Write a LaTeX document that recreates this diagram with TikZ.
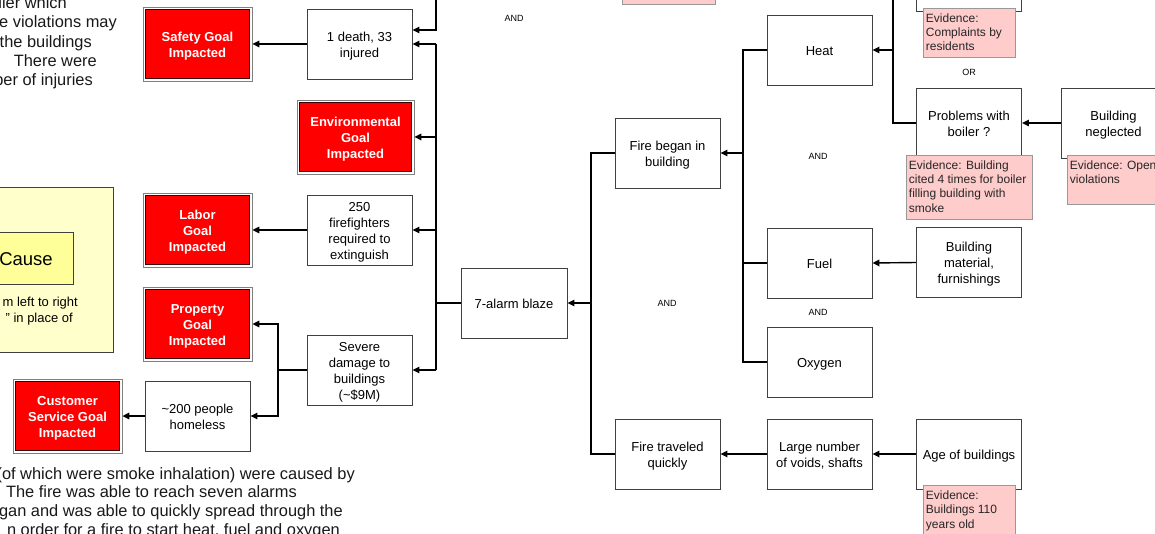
\documentclass[tikz,border=0pt]{standalone}
\usepackage{fontspec}
\setmainfont{Liberation Sans}
\usetikzlibrary{arrows.meta}
\definecolor{evpink}{RGB}{255,204,204}
\definecolor{ylight}{RGB}{255,255,204}
\definecolor{ymid}{RGB}{255,255,153}
\definecolor{goalred}{RGB}{255,0,0}
\definecolor{goaledge}{RGB}{60,0,0}
\newcommand{\evbox}[3]{\parbox[c][#1][t]{#2}{\raggedright\rule{0pt}{10.8pt}#3}}
\newcommand{\bt}[1]{\raisebox{-2pt}[\height][\depth]{\begin{tabular}{@{}c@{}}#1\end{tabular}}}
\begin{document}
\begin{tikzpicture}[x=1pt,y=-1pt,
 box/.style={draw=black!75, line width=0.9pt, fill=white, minimum width=105pt, minimum height=70pt, inner sep=1pt, font=\fontsize{13}{16}\selectfont},
 goal/.style={draw=black!50, line width=0.8pt, fill=white, minimum width=109pt, minimum height=74pt, inner sep=0pt, text=white, font=\fontsize{13}{16}\selectfont\bfseries,
   path picture={\draw[draw=goaledge, line width=1.5pt, fill=goalred] ([shift={(2.6pt,-2.6pt)}]path picture bounding box.north west) rectangle ([shift={(-2.6pt,2.6pt)}]path picture bounding box.south east);}},
 evid/.style={draw=black!40, line width=0.8pt, fill=evpink, anchor=north west, inner xsep=2.5pt, inner ysep=3pt, font=\fontsize{12}{14.4}\selectfont, text=black!85},
 gate/.style={font=\fontsize{9}{10}\selectfont, inner sep=0pt},
 para/.style={anchor=base east, inner sep=0pt, font=\fontsize{16.4}{19}\selectfont, text=black!90},
 conn/.style={draw=black, line width=1.4pt},
 arr/.style={conn, -{Triangle[length=7pt,width=6.5pt]}},
]
\useasboundingbox (0,0) rectangle (1155,534);
\clip (0,0) rectangle (1155,534);
\fill[white] (0,0) rectangle (1155,534);

% paragraph text
\node[para] (p1) at (67,9) {ller which};
\node[para] (p2) at (117,28) {e violations may};
\node[para] (p3) at (92,48) {the buildings};
\node[para] (p4) at (97,67) {There were};
\node[para] (p5) at (93,86) {ber of injuries};
\node[para] (q1) at (355,479) {(of which were smoke inhalation) were caused by};
\node[para] (q2) at (297,497) {The fire was able to reach seven alarms};
\node[para] (q3) at (343,516) {gan and was able to quickly spread through the};
\node[para] (q4) at (340,535) {n order for a fire to start heat, fuel and oxygen};

% legend
\node[draw=black!75, line width=1pt, fill=ylight, minimum width=174pt, minimum height=164pt] (legend) at (26,270) {};
\node[draw=black!75, line width=1pt, fill=ymid, minimum width=94pt, minimum height=52pt, font=\fontsize{18.5}{20}\selectfont] (cause) at (26,259) {Cause};
\node[anchor=base east, inner sep=0pt, font=\fontsize{13}{16}\selectfont] (l1) at (78,306.5) {m left to right};
\node[anchor=base east, inner sep=0pt, font=\fontsize{13}{16}\selectfont] (l2) at (73,322.5) {" in place of};

% goals
\node[goal] (safety) at (197.5,44) {\bt{Safety Goal\\Impacted}};
\node[goal, minimum width=117pt] (env) at (355.5,137) {\bt{Environmental\\Goal\\Impacted}};
\node[goal] (labor) at (197.5,230) {\bt{Labor\\Goal\\Impacted}};
\node[goal] (prop) at (197.5,324) {\bt{Property\\Goal\\Impacted}};
\node[goal] (cust) at (67.5,416) {\bt{Customer\\Service Goal\\Impacted}};

% boxes
\node[box] (death) at (359.5,44) {\bt{1 death, 33\\injured}};
\node[box] (fire250) at (359.5,230) {\bt{250\\firefighters\\required to\\extinguish}};
\node[box] (damage) at (359.5,370) {\bt{Severe\\damage to\\buildings\\(\textasciitilde\$9M)}};
\node[box] (homeless) at (197.5,416) {\bt{\textasciitilde200 people\\homeless}};
\node[box, minimum width=106pt] (blaze) at (514,303) {\bt{7-alarm blaze}};
\node[box] (began) at (667.5,153) {\bt{Fire began in\\building}};
\node[box] (traveled) at (667.5,454) {\bt{Fire traveled\\quickly}};
\node[box] (heat) at (819.5,50) {\bt{Heat}};
\node[box] (fuel) at (819.5,263) {\bt{Fuel}};
\node[box] (oxygen) at (819.5,362) {\bt{Oxygen}};
\node[box] (voids) at (819.5,454) {\bt{Large number\\of voids, shafts}};
\node[box] (material) at (969,262.5) {\bt{Building\\material,\\furnishings}};
\node[box] (age) at (969,454) {\bt{Age of buildings}};
\node[box] (boiler) at (969,123) {\bt{Problems with\\boiler ?}};
\node[box] (topbox) at (969,-24) {};
\node[box] (neglected) at (1113.5,123) {\bt{Building\\neglected}};

% evidence
\node[evid, minimum width=93pt, minimum height=50pt] (evtop) at (622,-46) {};
\node[evid] (ev1) at (923,8) {\evbox{43pt}{87pt}{Evidence:\\Complaints by\\residents}};
\node[evid] (ev2) at (906,155) {\evbox{58pt}{121pt}{Evidence: Building\\cited 4 times for boiler\\filling building with\\smoke}};
\node[evid] (ev3) at (1067,155) {\evbox{43pt}{105pt}{Evidence: Open\\violations}};
\node[evid] (ev4) at (923,485) {\evbox{46pt}{87pt}{Evidence:\\Buildings 110\\years old}};

% gate labels
\node[gate] (g1) at (514,18) {AND};
\node[gate] (g2) at (818,156) {AND};
\node[gate] (g3) at (667,303) {AND};
\node[gate] (g4) at (818,312) {AND};
\node[gate] (g5) at (969,72) {OR};

% left connectors
\coordinate (vtop) at (436,44);
\coordinate (vbot) at (436,370);
\coordinate (ctop) at (436,-30);
\draw[conn] (vtop) -- (vbot);
\draw[conn] (blaze.west) -- (blaze.west -| vtop);
\draw[arr] (death.east -| vtop) -- (death.east);
\draw[arr] (env.east -| vtop) -- (env.east);
\draw[arr] (fire250.east -| vtop) -- (fire250.east);
\draw[arr] (damage.east -| vtop) -- (damage.east);
\draw[arr] (ctop) |- ([yshift=14pt]death.east);
\draw[arr] (death.west) -- (safety.east);
\draw[arr] (fire250.west) -- (labor.east);
\coordinate (dj) at (278,370);
\draw[conn] (damage.west) -- (dj);
\draw[arr] (dj) |- (prop.east);
\draw[arr] (dj) |- (homeless.east);
\draw[arr] (homeless.west) -- (cust.east);

% right connectors
\coordinate (rj) at (591,303);
\draw[conn] (began.west) -- (began.west -| rj) -- (traveled.west -| rj) -- (traveled.west);
\draw[arr] (rj) -- (blaze.east);
\coordinate (hj) at (743,153);
\draw[conn] (heat.west) -- (heat.west -| hj) -- (oxygen.west -| hj) -- (oxygen.west);
\draw[conn] (fuel.west) -- (fuel.west -| hj);
\draw[arr] (hj) -- (began.east);
\draw[arr] (voids.west) -- (traveled.east);
\draw[arr] (age.west) -- (voids.east);
\draw[arr] (material.west) -- (fuel.east);
\draw[arr] (neglected.west) -- (boiler.east);
\coordinate (bj) at (893,50);
\draw[conn] (topbox.west) -- (topbox.west -| bj) -- (boiler.west -| bj) -- (boiler.west);
\draw[arr] (bj) -- (heat.east);
\end{tikzpicture}
\end{document}
